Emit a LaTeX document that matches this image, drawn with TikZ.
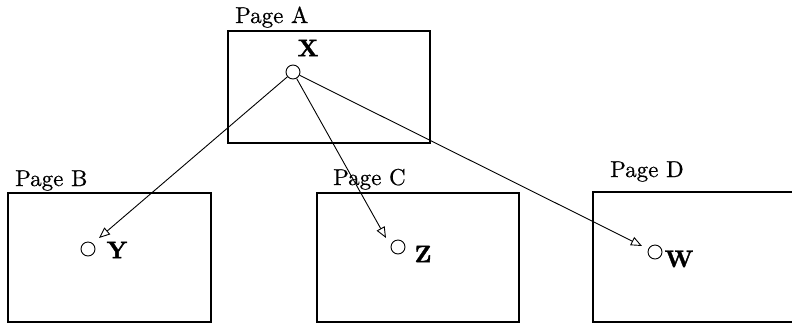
\documentclass[tikz,border=0pt]{standalone}
\usepackage{fontspec}
\newfontfamily\pagefont[FakeBold=0.6]{lmroman10-regular.otf}
\newfontfamily\varfont[FakeBold=1.5]{lmroman10-bold.otf}
\usetikzlibrary{arrows.meta}
\begin{document}
\begin{tikzpicture}[x=1pt,y=-1pt,
  pagebox/.style={draw,line width=1.3pt},
  pagelabel/.style={anchor=base west,inner sep=0pt,font=\pagefont\fontsize{23}{26}\selectfont},
  varlabel/.style={inner sep=0pt,font=\varfont\fontsize{24}{26}\selectfont},
  pt/.style={draw,circle,minimum size=14pt,inner sep=0pt,line width=0.9pt},
  link/.style={line width=0.9pt,-{Triangle[open,length=11pt,width=9pt]}}]
\useasboundingbox (0,0) rectangle (792,325);
% boxes
\draw[pagebox] (228,31) rectangle (430,143);
\draw[pagebox] (8,193) rectangle (211,322);
\draw[pagebox] (317,193) rectangle (519,322);
\draw[pagebox] (793,192) -- (593,192) -- (593,322) -- (793,322);
% page labels
\node[pagelabel] (la) at (235,23) {Page A};
\node[pagelabel] (lb) at (15,186) {Page B};
\node[pagelabel] (lc) at (333,185) {Page C};
\node[pagelabel] (ld) at (610,177) {Page D};
% points
\node[pt] (cx) at (293,72) {};
\node[pt] (cy) at (88,249) {};
\node[pt] (cz) at (398,247) {};
\node[pt] (cw) at (655,252) {};
% variable labels
\node[varlabel] (vx) at (308,48) {X};
\node[varlabel] (vy) at (117,250) {Y};
\node[varlabel] (vz) at (423,254) {Z};
\node[varlabel] (vw) at (679,259) {W};
% arrow tips
\coordinate (ty) at (99,238);
\coordinate (tz) at (386,238);
\coordinate (tw) at (642,246);
\draw[link] (cx) -- (ty);
\draw[link] (cx) -- (tz);
\draw[link] (cx) -- (tw);
\end{tikzpicture}
\end{document}
